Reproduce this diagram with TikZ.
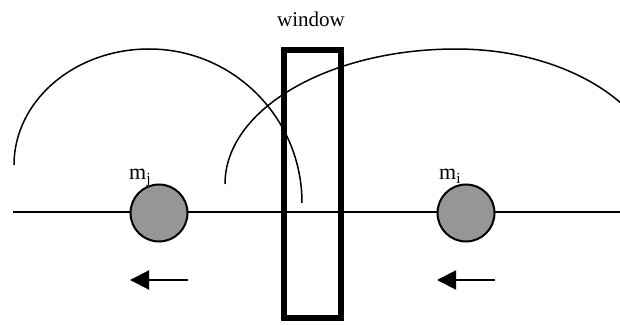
\documentclass[tikz,border=0pt]{standalone}
\usepackage{fontspec}
\setmainfont{Liberation Serif}
\usetikzlibrary{arrows.meta,positioning}
\definecolor{massgray}{RGB}{150,150,150}

\begin{document}
\begin{tikzpicture}[x=1pt,y=1pt]
    \useasboundingbox (0,0) rectangle (620,324);
    \clip (0,0) rectangle (620,324);
    \tikzset{mass/.style={circle, draw, line width=2pt, fill=massgray, minimum size=57pt, inner sep=0pt},
             lbl/.style={font=\fontsize{22}{26}\selectfont, inner sep=0pt, anchor=base west}}
    % axis line
    \coordinate (lineL) at (13,112);
    \coordinate (lineR) at (620,112);
    \draw[line width=2pt] (lineL) -- (lineR);
    % interaction ranges
    \draw[line width=1.5pt] (14,159) arc[start angle=180, end angle=90, x radius=135, y radius=116]
        arc[start angle=90, end angle=0, x radius=153, y radius=154];
    \draw[line width=1.5pt] (225,140) arc[start angle=180, end angle=90, x radius=231, y radius=135]
        arc[start angle=90, end angle=0, x radius=206, y radius=135];
    % particles
    \node[lbl] (lj) at (129,144) {m$_{\mathrm{j}}$};
    \node[lbl] (li) at (439,144) {m$_{\mathrm{i}}$};
    \node[mass] (mj) at (159,111) {};
    \node[mass] (mi) at (466,111) {};
    % window
    \draw[line width=6pt] (284,6) rectangle (341,274);
    \node[font=\fontsize{21}{25}\selectfont, anchor=base] (win) at (311,297) {window};
    % motion
    \coordinate (aj0) at (188,44);
    \coordinate (aj1) at (130,44);
    \coordinate (ai0) at (495,44);
    \coordinate (ai1) at (437,44);
    \draw[line width=2pt, -{Triangle[length=19pt,width=19pt]}] (aj0) -- (aj1);
    \draw[line width=2pt, -{Triangle[length=19pt,width=19pt]}] (ai0) -- (ai1);
\end{tikzpicture}
\end{document}
